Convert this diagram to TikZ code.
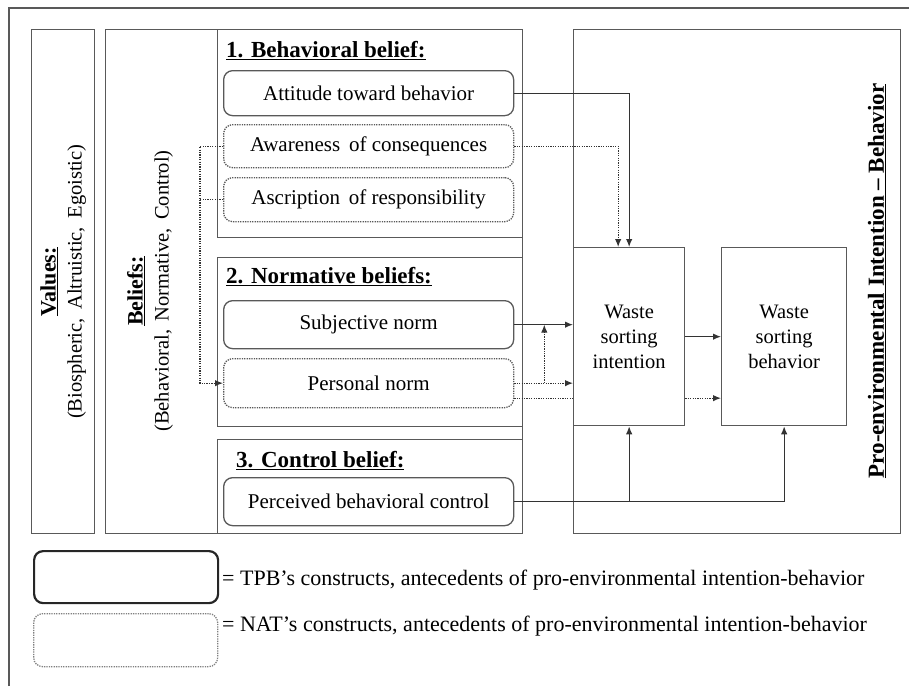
\documentclass[tikz,border=0pt]{standalone}
\usepackage{fontspec}
\setmainfont{Liberation Serif}
\usetikzlibrary{arrows,arrows.meta}

\tikzset{
  box/.style={draw=black!65, line width=1.3pt, anchor=north west, inner sep=0pt},
  tpb/.style={box, rounded corners=9pt, minimum width=290pt, font=\fontsize{21}{24}\selectfont},
  nat/.style={tpb, dash pattern=on 1.3pt off 1.1pt},
  head/.style={anchor=base west, inner sep=0pt, font=\fontsize{23}{26}\selectfont\bfseries},
  side/.style={rotate=90, align=center, inner sep=0pt, font=\fontsize{20.5}{26}\selectfont},
  arr/.style={draw=black!80, line width=1.2pt, -{Latex[length=8pt,width=6.5pt]}},
  darr/.style={arr, dash pattern=on 1.3pt off 1.1pt},
  dline/.style={draw=black!80, line width=1.2pt, dash pattern=on 1.3pt off 1.1pt},
}

\begin{document}
\begin{tikzpicture}[x=1pt, y=-1pt]
    \useasboundingbox (0,0) rectangle (909,686);
    % frame
    \draw[draw=black!65, line width=1.3pt] (9,686) -- (9,8) -- (909,8);

    % values and beliefs columns
    \node[box, minimum width=63pt, minimum height=504pt] (values) at (31,29) {};
    \node[box, minimum width=417pt, minimum height=504pt] (beliefs) at (105,29) {};
    \node[side] at (values.center) {{\fontsize{22}{26}\selectfont\bfseries\underline{Values:}}\\(Biospheric,\, Altruistic,\, Egoistic)};
    \node[side] at (150,291) {{\fontsize{22}{26}\selectfont\bfseries\underline{Beliefs:}}\\(Behavioral,\, Normative,\, Control)};

    % belief groups
    \node[box, minimum width=305pt, minimum height=208pt] (bb) at (217,29) {};
    \node[box, minimum width=305pt, minimum height=169pt] (nb) at (217,257) {};
    \node[box, minimum width=305pt, minimum height=94pt] (cb) at (217,439) {};
    \node[head] at (226,57) {\underline{1. Behavioral belief:}};
    \node[head] at (226,283) {\underline{2. Normative beliefs:}};
    \node[head] at (236,467) {\underline{3. Control belief:}};

    % constructs
    \node[tpb, minimum height=45pt] (att) at (223,70) {Attitude toward behavior};
    \node[nat, minimum height=43pt] (aware) at (223,124) {Awareness\, of consequences};
    \node[nat, minimum height=44pt] (asc) at (223,177) {Ascription\, of responsibility};
    \node[tpb, minimum height=48pt] (sn) at (223,300) {Subjective norm};
    \node[nat, minimum height=49pt] (pn) at (223,358) {Personal norm};
    \node[tpb, minimum height=48pt] (pbc) at (223,477) {Perceived behavioral control};

    % intention - behavior
    \node[box, minimum width=327pt, minimum height=504pt] (ib) at (573,29) {};
    \node[rotate=90, inner sep=0pt, font=\fontsize{23}{26}\selectfont\bfseries] at (877,281) {\underline{Pro-environmental Intention -- Behavior}};
    \node[box, minimum width=111pt, minimum height=178pt, align=center, font=\fontsize{20.5}{25}\selectfont] (int) at (573,247) {Waste\\sorting\\intention};
    \node[box, minimum width=125pt, minimum height=178pt, align=center, font=\fontsize{20.5}{25}\selectfont] (beh) at (721,247) {Waste\\sorting\\behavior};

    % arrows
    \draw[arr] (att.east) -| (int.north);
    \draw[darr] (aware.east) -| ([xshift=-11pt]int.north);
    \draw[darr] (aware.west) -- ++(-23,0) coordinate (fb) |- (pn.west);
    \draw[dline] (asc.west) -- (asc.west -| fb);
    \draw[arr] (sn.east) -- (sn.east -| int.west);
    \draw[darr] (pn.east) -- (pn.east -| int.west);
    \draw[darr] ([xshift=30pt]pn.east) -- ([xshift=30pt]pn.east |- sn.east);
    \draw[dline] ([yshift=-15pt]pn.east) -- ([yshift=-15pt]pn.east -| int.west);
    \draw[darr] ([yshift=-15pt]pn.east -| int.east) -- ([yshift=-15pt]pn.east -| beh.west);
    \draw[arr] (int.east) -- (beh.west);
    \draw[arr] (pbc.east) -| (beh.south);
    \draw[arr] (pbc.east -| int.south) -- (int.south);

    % legend
    \node[box, draw=black!85, line width=2.2pt, rounded corners=9pt, minimum width=184pt, minimum height=52pt] (ltpb) at (33,550) {};
    \node[box, draw=black!50, dash pattern=on 1.3pt off 1.1pt, rounded corners=9pt, minimum width=184pt, minimum height=53pt] (lnat) at (33,613) {};
    \node[anchor=west, inner sep=0pt, font=\fontsize{22}{24}\selectfont] at (222,580) {= TPB’s constructs, antecedents of pro-environmental intention-behavior};
    \node[anchor=west, inner sep=0pt, font=\fontsize{22}{24}\selectfont] at (222,626) {= NAT’s constructs, antecedents of pro-environmental intention-behavior};
\end{tikzpicture}
\end{document}
